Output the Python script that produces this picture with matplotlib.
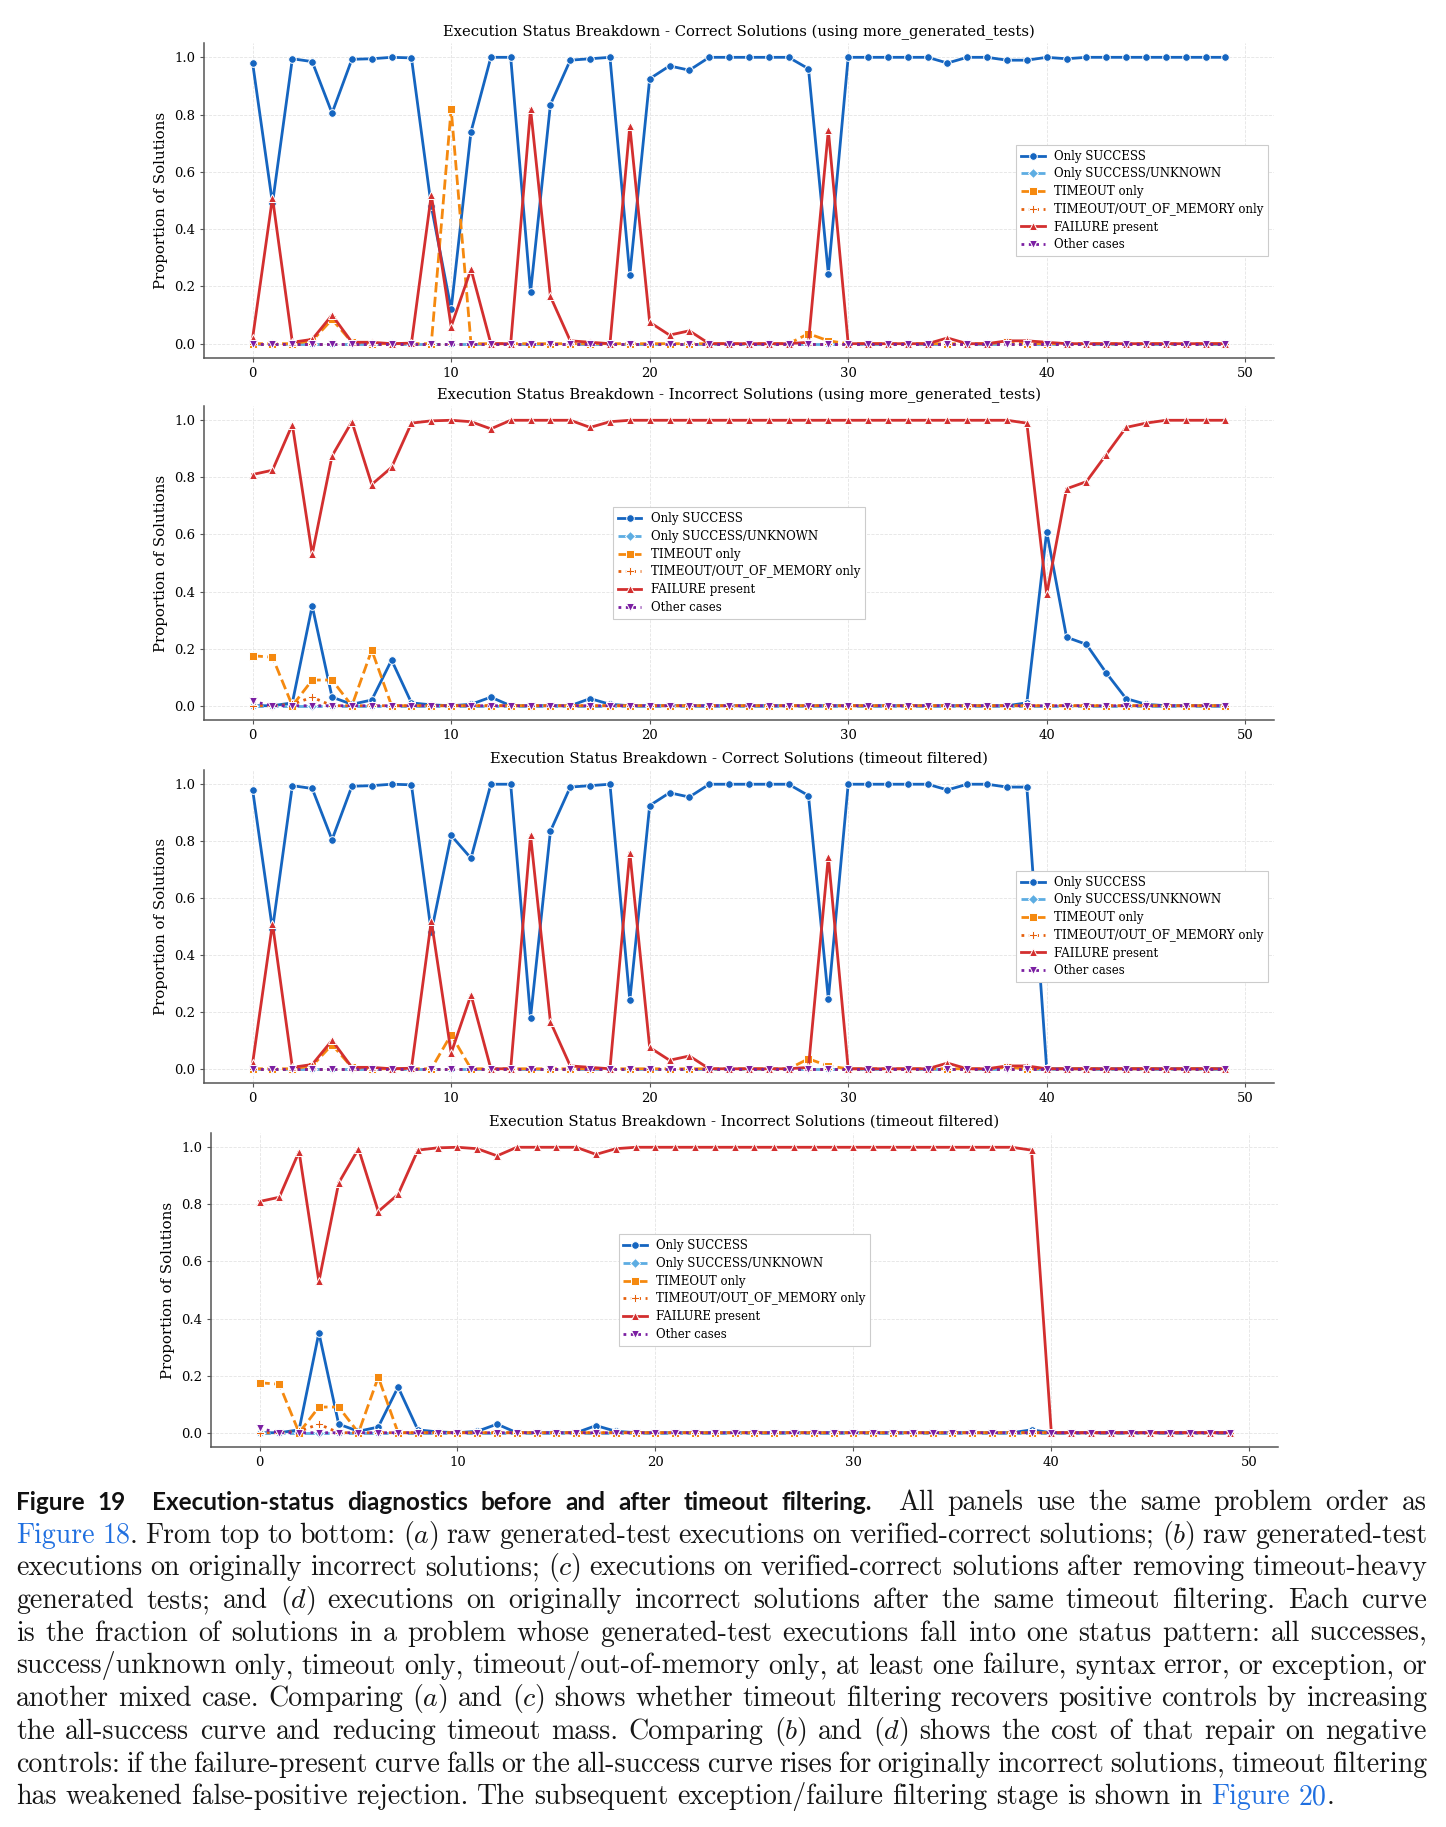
import numpy as np
import matplotlib
matplotlib.use('Agg')
import matplotlib.pyplot as plt

plt.rcParams['font.family'] = 'DejaVu Serif'
plt.rcParams['mathtext.fontset'] = 'cm'
plt.rcParams['axes.unicode_minus'] = False

problems = np.arange(50)

series_labels = ['Only SUCCESS', 'Only SUCCESS/UNKNOWN', 'TIMEOUT only',
                 'TIMEOUT/OUT_OF_MEMORY only', 'FAILURE present', 'Other cases']

panel_titles = [
    'Execution Status Breakdown - Correct Solutions (using more_generated_tests)',
    'Execution Status Breakdown - Incorrect Solutions (using more_generated_tests)',
    'Execution Status Breakdown - Correct Solutions (timeout filtered)',
    'Execution Status Breakdown - Incorrect Solutions (timeout filtered)',
]

zeros = [0.0] * 50

# (a) correct solutions, raw generated tests
succ_a = [0.98, 0.49, 0.995, 0.985, 0.805, 0.993, 0.995, 1.0, 0.998, 0.48,
          0.12, 0.74, 1.0, 1.0, 0.18, 0.835, 0.99, 0.995, 1.0, 0.24,
          0.925, 0.97, 0.955, 1.0, 1.0, 1.0, 1.0, 1.0, 0.96, 0.245,
          1.0, 1.0, 1.0, 1.0, 1.0, 0.98, 1.0, 1.0, 0.99, 0.99,
          1.0, 0.995, 1.0, 1.0, 1.0, 1.0, 1.0, 1.0, 1.0, 1.0]
timeout_a = [0.0, 0.0, 0.0, 0.01, 0.085, 0.005, 0.0, 0.0, 0.0, 0.0,
             0.82, 0.0, 0.0, 0.0, 0.0, 0.0, 0.0, 0.0, 0.0, 0.0,
             0.0, 0.0, 0.0, 0.0, 0.0, 0.0, 0.0, 0.0, 0.035, 0.01,
             0.0, 0.0, 0.0, 0.0, 0.0, 0.0, 0.0, 0.0, 0.005, 0.0,
             0.0, 0.0, 0.0, 0.0, 0.0, 0.0, 0.0, 0.0, 0.0, 0.0]
fail_a = [0.02, 0.51, 0.005, 0.015, 0.10, 0.005, 0.005, 0.0, 0.002, 0.52,
          0.06, 0.26, 0.0, 0.0, 0.82, 0.165, 0.01, 0.005, 0.0, 0.76,
          0.075, 0.03, 0.045, 0.0, 0.0, 0.0, 0.0, 0.0, 0.005, 0.745,
          0.0, 0.0, 0.0, 0.0, 0.0, 0.02, 0.0, 0.0, 0.01, 0.01,
          0.005, 0.0, 0.0, 0.0, 0.0, 0.0, 0.0, 0.0, 0.0, 0.0]

# (b) incorrect solutions, raw generated tests
succ_b = [0.0, 0.0, 0.01, 0.35, 0.03, 0.005, 0.02, 0.16, 0.01, 0.003,
          0.0, 0.005, 0.03, 0.0, 0.0, 0.0, 0.0, 0.025, 0.005, 0.0,
          0.0, 0.0, 0.0, 0.0, 0.0, 0.0, 0.0, 0.0, 0.0, 0.0,
          0.0, 0.0, 0.0, 0.0, 0.0, 0.0, 0.0, 0.0, 0.0, 0.01,
          0.61, 0.24, 0.215, 0.115, 0.025, 0.005, 0.0, 0.0, 0.0, 0.0]
timeout_b = [0.175, 0.17, 0.0, 0.09, 0.09, 0.0, 0.195, 0.0, 0.0, 0.0,
             0.0, 0.0, 0.0, 0.0, 0.0, 0.0, 0.0, 0.0, 0.0, 0.0,
             0.0, 0.0, 0.0, 0.0, 0.0, 0.0, 0.0, 0.0, 0.0, 0.0,
             0.0, 0.0, 0.0, 0.0, 0.0, 0.0, 0.0, 0.0, 0.0, 0.0,
             0.0, 0.0, 0.0, 0.0, 0.0, 0.0, 0.0, 0.0, 0.0, 0.0]
oom_b = [0.0, 0.0, 0.005, 0.03, 0.0, 0.0, 0.0, 0.0, 0.0, 0.0,
         0.0, 0.0, 0.0, 0.0, 0.0, 0.0, 0.0, 0.0, 0.0, 0.0,
         0.0, 0.0, 0.0, 0.0, 0.0, 0.0, 0.0, 0.0, 0.0, 0.0,
         0.0, 0.0, 0.0, 0.0, 0.0, 0.0, 0.0, 0.0, 0.0, 0.0,
         0.0, 0.0, 0.0, 0.0, 0.0, 0.0, 0.0, 0.0, 0.0, 0.0]
fail_b = [0.81, 0.825, 0.985, 0.53, 0.875, 0.995, 0.775, 0.835, 0.99, 0.998,
          1.0, 0.995, 0.97, 1.0, 1.0, 1.0, 1.0, 0.975, 0.995, 1.0,
          1.0, 1.0, 1.0, 1.0, 1.0, 1.0, 1.0, 1.0, 1.0, 1.0,
          1.0, 1.0, 1.0, 1.0, 1.0, 1.0, 1.0, 1.0, 1.0, 0.99,
          0.39, 0.76, 0.785, 0.88, 0.975, 0.99, 1.0, 1.0, 1.0, 1.0]
other_b = [0.015, 0.0, 0.0, 0.0, 0.0, 0.0, 0.0, 0.0, 0.0, 0.0,
           0.0, 0.0, 0.0, 0.0, 0.0, 0.0, 0.0, 0.0, 0.0, 0.0,
           0.0, 0.0, 0.0, 0.0, 0.0, 0.0, 0.0, 0.0, 0.0, 0.0,
           0.0, 0.0, 0.0, 0.0, 0.0, 0.0, 0.0, 0.0, 0.0, 0.0,
           0.0, 0.0, 0.0, 0.0, 0.0, 0.0, 0.0, 0.0, 0.0, 0.0]

# (c) correct solutions, timeout filtered
succ_c = [0.98, 0.49, 0.995, 0.985, 0.805, 0.993, 0.995, 1.0, 0.998, 0.48,
          0.82, 0.74, 1.0, 1.0, 0.18, 0.835, 0.99, 0.995, 1.0, 0.24,
          0.925, 0.97, 0.955, 1.0, 1.0, 1.0, 1.0, 1.0, 0.96, 0.245,
          1.0, 1.0, 1.0, 1.0, 1.0, 0.98, 1.0, 1.0, 0.99, 0.99,
          0.0, 0.0, 0.0, 0.0, 0.0, 0.0, 0.0, 0.0, 0.0, 0.0]
timeout_c = [0.0, 0.0, 0.0, 0.01, 0.085, 0.005, 0.0, 0.0, 0.0, 0.0,
             0.12, 0.0, 0.0, 0.0, 0.0, 0.0, 0.0, 0.0, 0.0, 0.0,
             0.0, 0.0, 0.0, 0.0, 0.0, 0.0, 0.0, 0.0, 0.035, 0.01,
             0.0, 0.0, 0.0, 0.0, 0.0, 0.0, 0.0, 0.0, 0.005, 0.0,
             0.0, 0.0, 0.0, 0.0, 0.0, 0.0, 0.0, 0.0, 0.0, 0.0]
fail_c = [0.02, 0.51, 0.005, 0.015, 0.10, 0.005, 0.005, 0.0, 0.002, 0.52,
          0.055, 0.26, 0.0, 0.0, 0.82, 0.165, 0.01, 0.005, 0.0, 0.76,
          0.075, 0.03, 0.045, 0.0, 0.0, 0.0, 0.0, 0.0, 0.005, 0.745,
          0.0, 0.0, 0.0, 0.0, 0.0, 0.02, 0.0, 0.0, 0.01, 0.01,
          0.0, 0.0, 0.0, 0.0, 0.0, 0.0, 0.0, 0.0, 0.0, 0.0]

# (d) incorrect solutions, timeout filtered
succ_d = [0.0, 0.0, 0.01, 0.35, 0.03, 0.005, 0.02, 0.16, 0.01, 0.003,
          0.0, 0.005, 0.03, 0.0, 0.0, 0.0, 0.0, 0.025, 0.005, 0.0,
          0.0, 0.0, 0.0, 0.0, 0.0, 0.0, 0.0, 0.0, 0.0, 0.0,
          0.0, 0.0, 0.0, 0.0, 0.0, 0.0, 0.0, 0.0, 0.0, 0.01,
          0.0, 0.0, 0.0, 0.0, 0.0, 0.0, 0.0, 0.0, 0.0, 0.0]
fail_d = [0.81, 0.825, 0.985, 0.53, 0.875, 0.995, 0.775, 0.835, 0.99, 0.998,
          1.0, 0.995, 0.97, 1.0, 1.0, 1.0, 1.0, 0.975, 0.995, 1.0,
          1.0, 1.0, 1.0, 1.0, 1.0, 1.0, 1.0, 1.0, 1.0, 1.0,
          1.0, 1.0, 1.0, 1.0, 1.0, 1.0, 1.0, 1.0, 1.0, 0.99,
          0.0, 0.0, 0.0, 0.0, 0.0, 0.0, 0.0, 0.0, 0.0, 0.0]

colors = ['#1565C0', '#5DADE2', '#F5890F', '#E6600C', '#D32F2F', '#7B1FA2']
markers = ['o', 'D', 's', 'P', '^', 'v']
linestyles = ['-', '--', '--', ':', '-', ':']

panels = [
    [succ_a, zeros, timeout_a, zeros, fail_a, zeros],
    [succ_b, zeros, timeout_b, oom_b, fail_b, other_b],
    [succ_c, zeros, timeout_c, zeros, fail_c, zeros],
    [succ_d, zeros, timeout_b, oom_b, fail_d, other_b],
]
legend_locs = ['center right', 'center', 'center right', 'center']

W, H = 1446, 1827
fig = plt.figure(figsize=(W / 100, H / 100), dpi=100)

# axes boxes in pixels: left, right, top, bottom
boxes = [(204, 1274, 43, 358), (204, 1274, 406, 720), (204, 1274, 770, 1083), (211, 1278, 1133, 1447)]

for k in range(4):
    l, r, t, b = boxes[k]
    ax = fig.add_axes([l / W, 1 - b / H, (r - l) / W, (b - t) / H])
    for j in range(6):
        ax.plot(problems, panels[k][j], color=colors[j], marker=markers[j],
                linestyle=linestyles[j], linewidth=2.0, markersize=5.5,
                markeredgecolor='white', markeredgewidth=0.7,
                label=series_labels[j])
    ax.set_title(panel_titles[k], fontsize=10.6, pad=5)
    ax.set_ylabel('Proportion of Solutions', fontsize=10.8)
    ax.set_xlim(-2.45, 51.45)
    ax.set_ylim(-0.05, 1.05)
    ax.set_xticks([0, 10, 20, 30, 40, 50])
    ax.set_yticks([0.0, 0.2, 0.4, 0.6, 0.8, 1.0])
    ax.tick_params(labelsize=9.5, length=3, color='#555555')
    ax.grid(True, linestyle='--', linewidth=0.6, color='#dddddd', alpha=0.8)
    for s in ['top', 'right']:
        ax.spines[s].set_visible(False)
    for s in ['left', 'bottom']:
        ax.spines[s].set_color('#555555')
        ax.spines[s].set_linewidth(1.1)
    leg = ax.legend(loc=legend_locs[k], fontsize=8.5, fancybox=False,
                    edgecolor='#cccccc', framealpha=1.0, labelspacing=0.4)
    leg.get_frame().set_linewidth(0.8)

# ---- caption below the panels ----
caption_lines = [
    "#Figure 19  Execution-status diagnostics before and after timeout filtering.#  All panels use the same problem order as",
    "{Figure 18}. From top to bottom: *(a)* raw generated-test executions on verified-correct solutions; *(b)* raw generated-test",
    "executions on originally incorrect solutions; *(c)* executions on verified-correct solutions after removing timeout-heavy",
    "generated tests; and *(d)* executions on originally incorrect solutions after the same timeout filtering. Each curve",
    "is the fraction of solutions in a problem whose generated-test executions fall into one status pattern: all successes,",
    "success/unknown only, timeout only, timeout/out-of-memory only, at least one failure, syntax error, or exception, or",
    "another mixed case. Comparing *(a)* and *(c)* shows whether timeout filtering recovers positive controls by increasing",
    "the all-success curve and reducing timeout mass. Comparing *(b)* and *(d)* shows the cost of that repair on negative",
    "controls: if the failure-present curve falls or the all-success curve rises for originally incorrect solutions, timeout filtering",
    "has weakened false-positive rejection. The subsequent exception/failure filtering stage is shown in {Figure 20}.",
]

body_size = 20.1
styles = {
    'r': dict(family='cmr10', fontsize=body_size, color='#161616'),
    'i': dict(fontsize=body_size, color='#161616'),
    'l': dict(family='cmr10', fontsize=body_size, color='#1F6FE0'),
    'b': dict(family='Lato', fontweight='bold', fontsize=17.5, color='#111111'),
}


def parse(line):
    words = []
    cur = []
    style = 'r'
    nspace = 0
    gap = 0
    for ch in line:
        if ch == '#':
            style = 'r' if style == 'b' else 'b'
            continue
        if ch == '*':
            style = 'r' if style == 'i' else 'i'
            continue
        if ch == '{':
            style = 'l'
            continue
        if ch == '}':
            style = 'r'
            continue
        if ch == ' ':
            if cur:
                words.append((cur, gap))
                cur = []
            nspace += 1
            continue
        if not cur:
            gap = nspace
            nspace = 0
        if cur and cur[-1][0] == style:
            cur[-1][1] += ch
        else:
            cur.append([style, ch])
    if cur:
        words.append((cur, gap))
    return words


renderer = fig.canvas.get_renderer()
x0, x1 = 16, 1427
base0, step = 1510, 32.7

for i, line in enumerate(caption_lines):
    words = parse(line)
    items = []
    total = 0
    for pieces, gap in words:
        objs = []
        wsum = 0
        for st, txt in pieces:
            s = '$' + txt + '$' if st == 'i' else txt
            t = fig.text(0, 0, s, va='baseline', ha='left', **styles[st])
            w = t.get_window_extent(renderer).width
            objs.append((t, w))
            wsum += w
        items.append((objs, gap, wsum))
        total += wsum
    weights = sum(g for _, g, _ in items[1:])
    if i == len(caption_lines) - 1:
        unit = 8.8
    else:
        unit = max((x1 - x0 - total) / weights, 3.0)
    y = 1 - (base0 + i * step) / H
    x = x0
    for n, (objs, gap, wsum) in enumerate(items):
        if n > 0:
            x += gap * unit
        for t, w in objs:
            t.set_position((x / W, y))
            x += w

fig.savefig('out.png', dpi=100)
